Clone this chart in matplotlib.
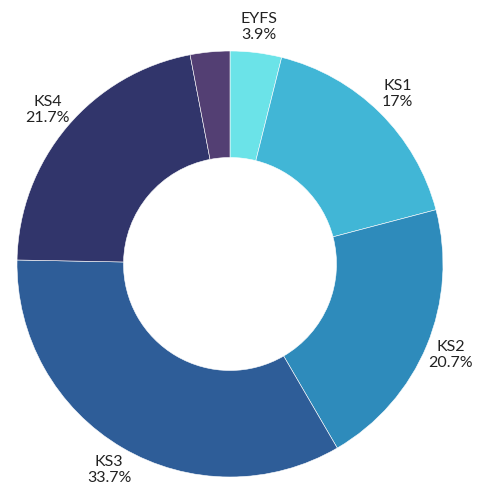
import numpy as np
import matplotlib.pyplot as plt

stages = ["EYFS", "KS1", "KS2", "KS3", "KS4", ""]
shares = [3.9, 17.0, 20.7, 33.7, 21.7, 3.0]
pct_labels = ["3.9%", "17%", "20.7%", "33.7%", "21.7%", ""]
colors = ["#6be3e8", "#41b6d6", "#2e8bbb", "#2e5d98", "#31356b", "#533f73"]

fig = plt.figure(figsize=(4.87, 4.91), dpi=100)
ax = fig.add_axes([0, 0, 1, 1])

wedges, _ = ax.pie(shares, colors=colors, startangle=90, counterclock=False,
                   radius=1, wedgeprops=dict(width=0.5, edgecolor="white", linewidth=0.4))

# labels outside each wedge at its mid angle
for w, name, pct in zip(wedges, stages, pct_labels):
    if not name:
        continue
    ang = np.deg2rad((w.theta1 + w.theta2) / 2)
    r = 1.12
    ax.text(r * np.cos(ang), r * np.sin(ang), name + "\n" + pct,
            ha="center", va="center", fontsize=11.5, family="Lato",
            color="#222222", linespacing=1.15)

# pixel layout: center at (230, 264) from top, radius 213 px
s = 213.0
ax.set_xlim(-230 / s, (487 - 230) / s)
ax.set_ylim(-(491 - 264) / s, 264 / s)
ax.set_aspect("equal")
ax.axis("off")

fig.savefig("out.png", dpi=100)
